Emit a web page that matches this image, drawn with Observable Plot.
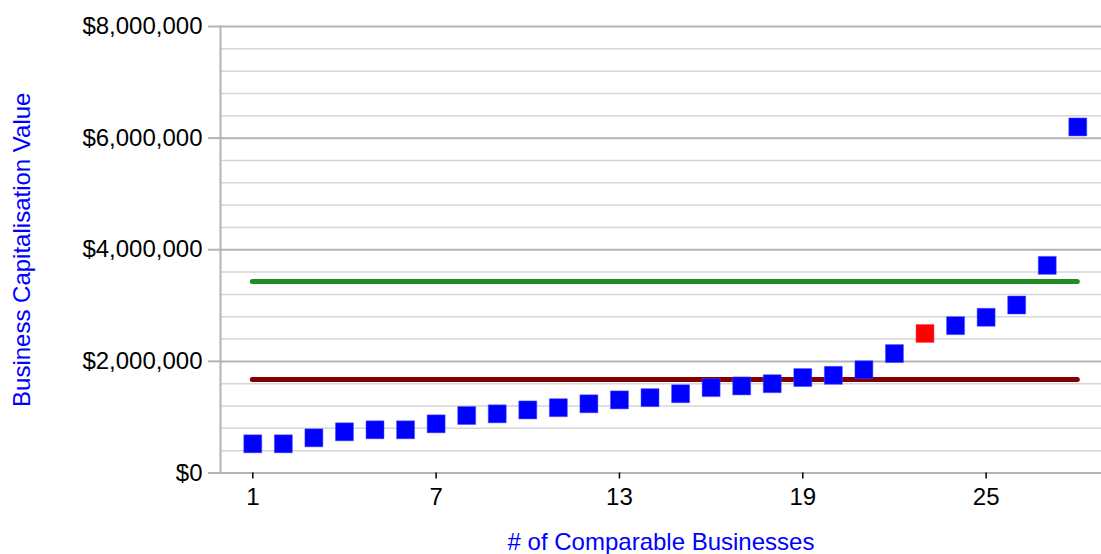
<!DOCTYPE html>
<html><head><meta charset="utf-8">
<script src="https://cdn.jsdelivr.net/npm/d3@7"></script>
<script src="https://cdn.jsdelivr.net/npm/@observablehq/plot@0.6"></script>
<style>body{margin:0;background:#fff;} svg{display:block;}</style>
</head><body><div id="chart"></div>
<script>
const businesses = [1,2,3,4,5,6,7,8,9,10,11,12,13,14,15,16,17,18,19,20,21,22,23,24,25,26,27,28];
const values = [523000, 523000, 630000, 738000, 774000, 774000, 881000, 1030000, 1060000, 1130000,
  1170000, 1240000, 1310000, 1350000, 1420000, 1530000, 1560000, 1600000, 1710000, 1750000,
  1850000, 2140000, 2500000, 2640000, 2790000, 3010000, 3720000, 6200000];
const subjectBusiness = 23;
const upperValue = 3430000;
const lowerValue = 1675000;
const xTicks = [1, 7, 13, 19, 25];
const yTicks = [0, 2000000, 4000000, 6000000, 8000000];
const minorGrid = [400000, 800000, 1200000, 1600000, 2400000, 2800000, 3200000, 3600000,
  4400000, 4800000, 5200000, 5600000, 6400000, 6800000, 7200000, 7600000];
const xTitle = "# of Comparable Businesses";
const yTitle = "Business Capitalisation Value";

const data = businesses.map((b, i) => ({b, v: values[i], subject: b === subjectBusiness}));
const font = "'Liberation Sans', Arial, sans-serif";

const chart = Plot.plot({
  width: 1101,
  height: 554,
  marginLeft: 220,
  marginRight: 0,
  marginTop: 26,
  marginBottom: 81.5,
  style: {fontFamily: font, background: "#fff"},
  x: {domain: [-0.057, 28.776]},
  y: {domain: [0, 8000000]},
  marks: [
    Plot.ruleY(minorGrid, {stroke: "#d6d6d6", strokeWidth: 1.5}),
    Plot.ruleY(yTicks, {stroke: "#b3b3b3", strokeWidth: 2}),
    Plot.frame({anchor: "left", stroke: "#b3b3b3", strokeWidth: 2}),
    Plot.axisY({ticks: yTicks, tickFormat: d => "$" + d3.format(",")(d), tickSize: 12, tickPadding: 6,
      stroke: "#b3b3b3", strokeWidth: 2, fill: "#000", fontSize: 24, label: null}),
    Plot.axisX({ticks: xTicks, tickFormat: d => String(d), tickSize: 6, tickPadding: 9,
      stroke: "#000", strokeWidth: 1.5, fill: "#000", fontSize: 24, label: null}),
    Plot.ruleY([upperValue], {x1: businesses[0], x2: businesses[businesses.length - 1], stroke: "#228b22", strokeWidth: 5, strokeLinecap: "round"}),
    Plot.ruleY([lowerValue], {x1: businesses[0], x2: businesses[businesses.length - 1], stroke: "#800000", strokeWidth: 5, strokeLinecap: "round"}),
    Plot.dot(data.filter(d => !d.subject), {x: "b", y: "v", symbol: "square", r: 10.15, fill: "#0000ff", stroke: "#4d4dff", strokeWidth: 0.5}),
    Plot.dot(data.filter(d => d.subject), {x: "b", y: "v", symbol: "square", r: 10.15, fill: "#ff0000", stroke: "#ff4d4d", strokeWidth: 0.5}),
    Plot.text([yTitle], {frameAnchor: "left", rotate: -90, dx: -198, fill: "#0000ff", fontSize: 24, lineAnchor: "middle", textAnchor: "middle"}),
    Plot.text([xTitle], {frameAnchor: "bottom", dy: 69, fill: "#0000ff", fontSize: 24, lineAnchor: "middle", textAnchor: "middle"})
  ]
});
document.getElementById("chart").appendChild(chart);
</script>
</body></html>
